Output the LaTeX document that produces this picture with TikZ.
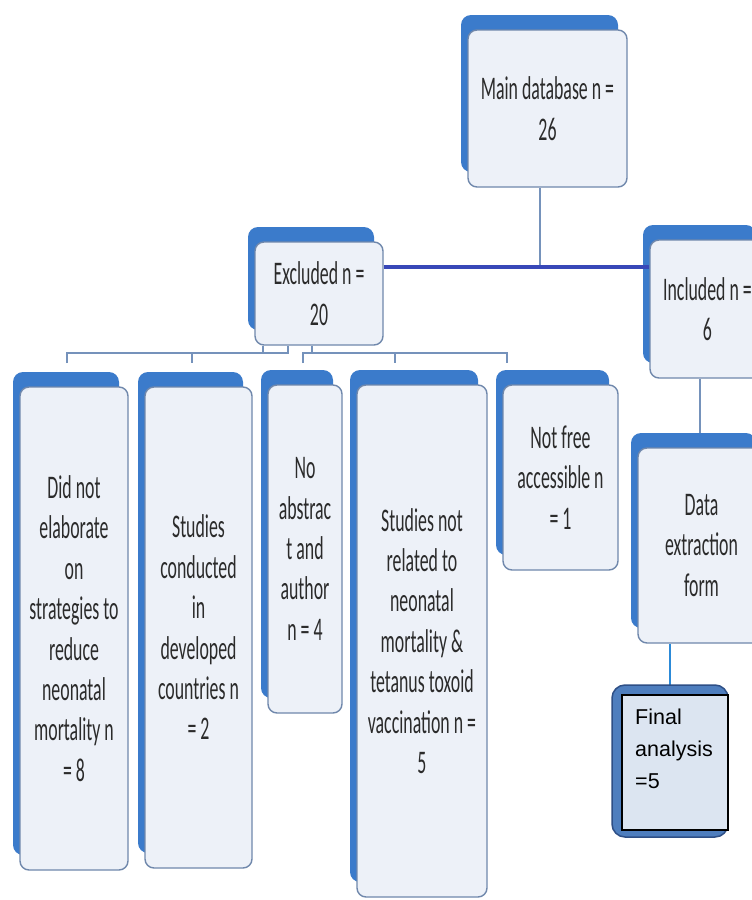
\documentclass[tikz,border=0pt]{standalone}
\usepackage{fontspec}
\newfontfamily\boxfont[FakeStretch=0.54]{Carlito}
\newfontfamily\arialf{Liberation Sans}
\definecolor{backblue}{HTML}{3B7BCB}
\definecolor{frontfill}{HTML}{EDF1F8}
\definecolor{frontedge}{HTML}{7088AC}
\definecolor{linkc}{HTML}{7592BB}
\definecolor{trunkc}{HTML}{3848B8}
\definecolor{txtc}{HTML}{2B2B2B}
\definecolor{finalout}{HTML}{4E7EBE}
\definecolor{finaledge}{HTML}{2E4F86}
\definecolor{finalin}{HTML}{DCE5F1}
\definecolor{datalink}{HTML}{2C8AD8}
\tikzset{
  x=1pt, y=-1pt,
  back/.style={fill=backblue, rounded corners=10pt},
  front/.style={draw=frontedge, line width=1.4pt, fill=frontfill, rounded corners=9pt,
    inner sep=0pt, align=center, text=txtc,
    font=\boxfont\fontsize{33}{40.4}\selectfont},
  link/.style={draw=linkc, line width=1.5pt},
  trunk/.style={draw=trunkc, line width=4pt},
}
\newcommand\mkbox[6]{%
  \fill[back] (#2-7,#3-15) rectangle (#4-9,#5-15);
  \node[front, minimum width={#4-#2}, minimum height={#5-#3}] (#1) at ({(#2+#4)/2},{(#3+#5)/2}) {#6};
}
\begin{document}
\begin{tikzpicture}
\useasboundingbox (0,0) rectangle (752,900);
\clip (0,0) rectangle (752,900);
\fill[white] (0,0) rectangle (752,900);

% named helper coordinates
\coordinate (j) at (540,267);
\coordinate (bar) at (0,353);
\coordinate (t1) at (67,353);
\coordinate (t2) at (192,353);
\coordinate (t3) at (303,353);
\coordinate (t4) at (395,353);
\coordinate (t5) at (507,353);
\coordinate (u1) at (263,353);
\coordinate (u2) at (288,353);
\coordinate (u3) at (312,353);
\coordinate (k) at (700,0);
\coordinate (k2) at (670,0);

% boxes
\mkbox{main}{468}{30}{627}{187}{Main database n =\\26}
\mkbox{excl}{255}{242}{383}{345}{Excluded n =\\20}
\mkbox{incl}{650}{240}{765}{378}{Included n =\\6}

% connectors behind lower boxes
\draw[link] (j |- main.south) -- (j);
\draw[trunk] (j -| excl.east) -- (j -| incl.west);
\draw[link] (t1) ++(0,10) -- (t1) -- (u2) -- (u2 |- excl.south);
\draw[link] (u1) -- (u1 |- excl.south);
\draw[link] (t2) -- ++(0,10);
\draw[link] (t3) ++(0,10) -- (t3) -- (t5) -- ++(0,10);
\draw[link] (u3) -- (u3 |- excl.south);
\draw[link] (t4) -- ++(0,10);
\draw[link] (incl.south -| k) -- (k |- 0,450);

\mkbox{c1}{20}{387}{128}{870}{Did not\\elaborate\\on\\strategies to\\reduce\\neonatal\\mortality n\\= 8}
\mkbox{c2}{145}{387}{252}{868}{Studies\\conducted\\in\\developed\\countries n\\= 2}
\mkbox{c3}{268}{385}{342}{713}{No\\abstrac\\t and\\author\\n = 4}
\mkbox{c4}{357}{385}{487}{897}{Studies not\\related to\\neonatal\\mortality \&\\tetanus toxoid\\vaccination n =\\5}
\mkbox{c5}{503}{385}{618}{570}{Not free\\accessible n\\= 1}
\mkbox{data}{638}{448}{765}{643}{Data\\extraction\\form}

% final analysis
\draw[draw=datalink, line width=1.2pt] (data.south -| k2) -- (k2 |- 0,690);
\fill[finalout, draw=finaledge, line width=1.5pt, rounded corners=13pt] (612,685) rectangle (728,837);
\node[draw=black, fill=finalin, line width=1.2pt, minimum width=106, minimum height=135, inner sep=0pt] (final) at (675,762.5) {};
\node[anchor=north west, inner sep=0pt, align=left, font=\arialf\fontsize{21.5}{32}\selectfont] (finaltext) at (635,709) {Final\\analysis\\=5};
\end{tikzpicture}
\end{document}
